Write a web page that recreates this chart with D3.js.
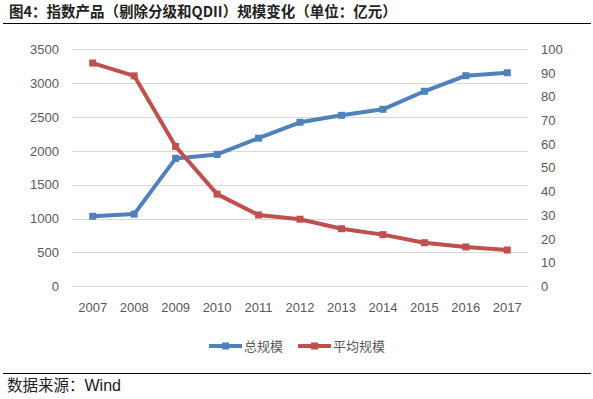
<!DOCTYPE html>
<html>
<head>
<meta charset="utf-8">
<script src="https://cdn.jsdelivr.net/npm/d3@7"></script>
<style>
  body { margin: 0; background: #fff; }
  svg { display: block; }
  .tick text { font-family: "Liberation Sans", Arial, sans-serif; font-size: 13px; fill: #595959; }
</style>
</head>
<body>
<svg width="593" height="399"></svg>
<script>
// data
const years = ['2007','2008','2009','2010','2011','2012','2013','2014','2015','2016','2017'];
const totalSize = [1034, 1066, 1889, 1948, 2188, 2422, 2525, 2614, 2880, 3110, 3154]; // 总规模, left axis
const avgSize = [94.2, 88.8, 59.0, 38.9, 30.1, 28.3, 24.3, 21.8, 18.4, 16.6, 15.3];      // 平均规模, right axis
const leftTicks = [0, 500, 1000, 1500, 2000, 2500, 3000, 3500];
const rightTicks = [0, 10, 20, 30, 40, 50, 60, 70, 80, 90, 100];
const seriesNames = ['总规模', '平均规模'];
const colors = ['#4F81BD', '#C0504D'];

const svg = d3.select('svg');

// title + rules
svg.append('text')
  .attr('x', 9).attr('y', 17)
  .style('font-family', '"Noto Sans CJK SC", sans-serif')
  .style('font-size', '14.5px').style('font-weight', 'bold').style('fill', '#222')
  .text('图4：指数产品（剔除分级和QDII）规模变化（单位：亿元）');
svg.append('line').attr('x1', 3).attr('x2', 591).attr('y1', 23.5).attr('y2', 23.5)
  .attr('stroke', '#000').attr('stroke-width', 1.2);
svg.append('line').attr('x1', 3).attr('x2', 591).attr('y1', 373.5).attr('y2', 373.5)
  .attr('stroke', '#000').attr('stroke-width', 1.2);
const src = svg.append('text').attr('x', 7).attr('y', 391);
src.append('tspan').style('font-family', '"Noto Sans CJK SC", sans-serif').style('font-size', '15.5px').style('fill', '#222').text('数据来源：');
src.append('tspan').style('font-family', '"Liberation Sans", Arial, sans-serif').style('font-size', '16px').style('fill', '#1a1a1a').text('Wind');

// scales
const x = d3.scaleBand().domain(years).range([72, 528]);
const yL = d3.scaleLinear().domain([0, 3500]).range([286.3, 49.3]);
const yR = d3.scaleLinear().domain([0, 100]).range([286.3, 49.3]);

// gridlines
svg.append('g').selectAll('line').data(leftTicks).enter().append('line')
  .attr('x1', 72).attr('x2', 528)
  .attr('y1', d => Math.round(yL(d)) + 0.5).attr('y2', d => Math.round(yL(d)) + 0.5)
  .attr('stroke', '#d9d9d9').attr('stroke-width', 1);

// axes
const axL = svg.append('g').attr('transform', 'translate(72,0)')
  .call(d3.axisLeft(yL).tickValues(leftTicks).tickFormat(d3.format('d')).tickSize(0).tickPadding(13));
axL.select('.domain').remove();

const axR = svg.append('g').attr('transform', 'translate(528,0)')
  .call(d3.axisRight(yR).tickValues(rightTicks).tickSize(0).tickPadding(13));
axR.select('.domain').remove();

const axX = svg.append('g').attr('transform', 'translate(0,286)')
  .call(d3.axisBottom(x).tickSize(0).tickPadding(17));
axX.select('.domain').remove();

// lines
const cx = d => x(d) + x.bandwidth() / 2;
const series = [
  { vals: totalSize, y: yL },
  { vals: avgSize, y: yR }
];
series.forEach((s, i) => {
  const line = d3.line().x((d, j) => cx(years[j])).y(d => s.y(d));
  svg.append('path').datum(s.vals)
    .attr('d', line).attr('fill', 'none')
    .attr('stroke', colors[i]).attr('stroke-width', 4).attr('stroke-linejoin', 'round');
  svg.append('g').selectAll('rect').data(s.vals).enter().append('rect')
    .attr('x', (d, j) => cx(years[j]) - 3.5).attr('y', d => s.y(d) - 3.5)
    .attr('width', 7).attr('height', 7).attr('fill', colors[i]);
});

// legend
const legX = [209, 298];
const leg = svg.append('g');
seriesNames.forEach((name, i) => {
  const g = leg.append('g').attr('transform', `translate(${legX[i]},346)`);
  g.append('line').attr('x1', 0).attr('x2', 33).attr('y1', 0).attr('y2', 0)
    .attr('stroke', colors[i]).attr('stroke-width', 4);
  g.append('rect').attr('x', 13).attr('y', -3.5).attr('width', 7).attr('height', 7).attr('fill', colors[i]);
  g.append('text').attr('x', 35).attr('y', 0).attr('dy', '0.35em')
    .style('font-family', '"Noto Sans CJK SC", sans-serif').style('font-size', '13px').style('fill', '#595959')
    .text(name);
});
</script>
</body>
</html>
